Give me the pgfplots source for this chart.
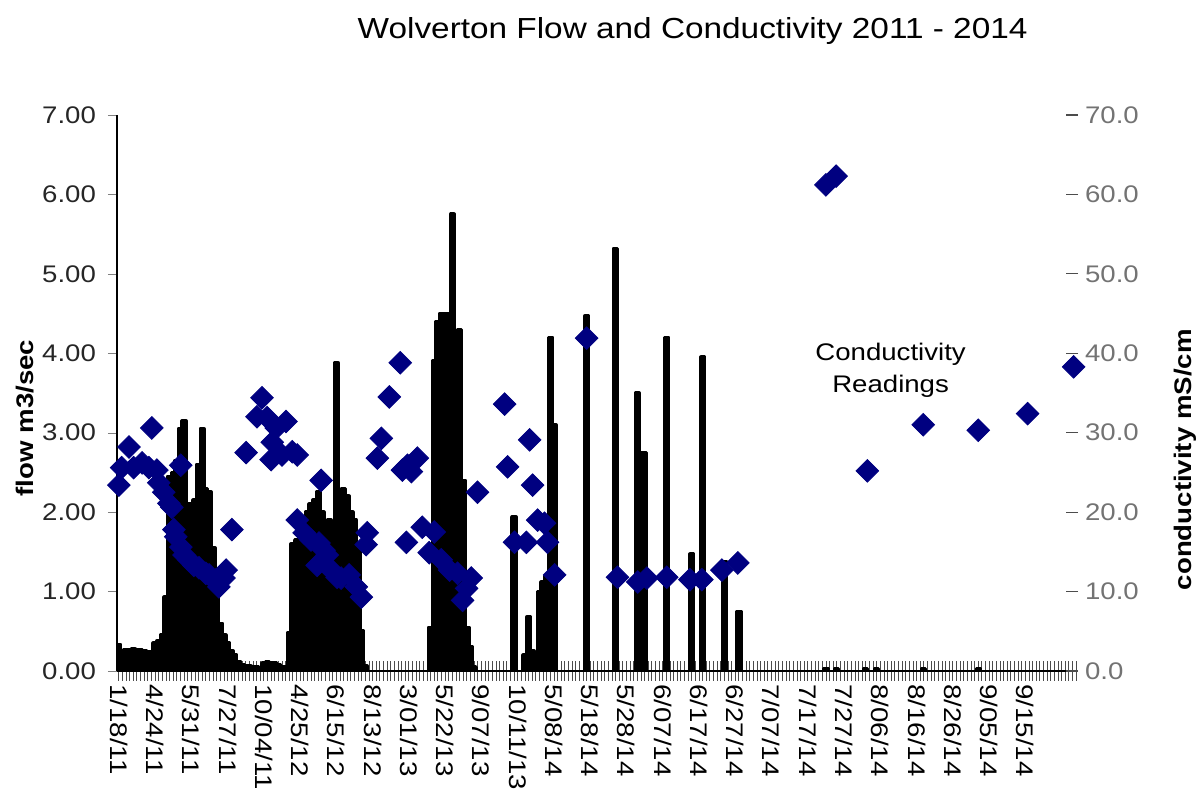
\documentclass[border=0pt]{standalone}
\usepackage{fontspec}
\setmainfont{Liberation Sans}[FakeStretch=1.15]
\usepackage{pgfplots}
\usepackage{pgfplotstable}
\pgfplotsset{compat=1.18}
\definecolor{navy}{RGB}{0,0,128}

\pgfplotstableread{
i flow
0 0.33
1 0.02
2 0.27
3 0.27
4 0.28
5 0.27
6 0.27
7 0.26
8 0.24
9 0.24
10 0.35
11 0.38
12 0.45
13 0.93
14 2.45
15 2.5
16 2.65
17 3.05
18 3.15
19 2.1
20 2.1
21 2.15
22 2.6
23 3.05
24 2.3
25 2.25
26 1.55
27 1.0
28 0.6
29 0.45
30 0.35
31 0.25
32 0.2
33 0.12
34 0.08
35 0.07
36 0.06
37 0.05
38 0.05
39 0.04
40 0.1
41 0.12
42 0.1
43 0.1
44 0.08
45 0.05
46 0.05
47 0.48
48 1.6
49 1.65
50 1.75
51 1.9
52 2.0
53 2.1
54 2.15
55 2.25
56 2.0
57 1.6
58 1.9
59 1.65
60 3.88
61 1.6
62 2.3
63 2.2
64 2.0
65 1.9
66 1.6
67 0.5
68 0.06
86 0.55
87 3.9
88 4.4
89 4.5
90 4.5
91 4.5
92 5.75
93 2.45
94 4.3
95 2.4
96 0.55
97 0.3
98 0.05
109 1.94
112 0.2
113 0.68
114 0.25
115 0.22
116 1.0
117 1.12
118 1.2
119 4.2
120 3.1
129 4.47
137 5.32
143 3.5
144 2.75
145 2.75
151 4.2
158 1.47
161 3.95
167 1.38
171 0.75
195 0.03
198 0.03
206 0.03
209 0.03
222 0.03
237 0.03
}\flowdata

\pgfplotstableread{
i cond
0.0 23.4
0.8 25.6
2.8 28.2
4.1 25.6
6.4 26.2
8.3 25.6
9.1 30.6
10.5 25.3
11.0 23.7
12.4 22.5
13.8 21.1
14.6 20.6
15.2 17.8
15.7 16.9
17.1 25.9
17.1 15.6
18.0 14.6
19.3 14.0
20.7 13.3
22.1 13.0
24.0 12.3
24.9 12.1
26.8 11.5
27.6 10.6
29.0 11.7
29.6 12.7
31.2 17.8
35.1 27.5
38.1 32.0
39.5 34.4
40.9 31.9
42.0 26.6
42.3 28.8
43.4 30.6
45.0 27.2
46.1 31.4
47.8 27.6
49.2 27.2
49.2 19.0
51.1 17.4
53.0 16.5
54.7 13.3
55.2 16.1
55.8 24.0
56.6 15.2
57.5 14.6
58.6 12.7
60.2 11.8
61.3 11.7
63.5 12.1
65.5 10.6
66.9 9.3
68.2 15.9
68.5 17.4
71.3 26.8
72.4 29.3
74.6 34.5
77.6 38.8
78.2 25.3
79.3 16.2
79.6 25.9
80.7 25.1
82.3 26.8
83.7 18.1
85.6 14.9
87.0 17.5
88.9 14.0
91.2 12.7
93.4 12.3
94.8 8.9
95.9 10.4
97.2 11.7
98.9 22.5
106.4 33.6
107.2 25.7
109.1 16.2
112.4 16.2
113.3 29.1
114.1 23.4
115.5 19.0
117.4 18.6
118.2 16.2
120.2 12.1
129.0 41.9
137.5 11.8
143.1 11.2
145.6 11.7
151.1 11.8
157.5 11.5
160.8 11.5
166.3 12.7
170.7 13.6
195.0 61.2
197.8 62.3
206.4 25.2
221.8 31.0
237.0 30.3
250.6 32.4
263.3 38.3
}\conddata

\begin{document}
\begin{tikzpicture}
\begin{axis}[
  scale only axis, width=480.5pt, height=278pt,
  at={(0,0)}, anchor=south west,
  xmin=-0.5, xmax=264.5, ymin=0, ymax=7,
  axis x line*=bottom, axis y line*=left,
  axis line style={black, line width=0.8pt},
  ytick={0,1,...,7},
  /pgf/number format/fixed, /pgf/number format/fixed zerofill,
  /pgf/number format/precision=2, /pgf/number format/assume math mode=true,
  y tick label style={font=\fontsize{12}{14}\selectfont, text=black!85, xshift=-2.5pt},
  ytick align=outside, major tick length=4.5pt,
  xtick={0,10,...,260},
  xticklabels={1/18/11,4/24/11,5/31/11,7/27/11,10/04/11,4/25/12,6/15/12,8/13/12,3/01/13,5/22/13,9/07/13,10/11/13,5/08/14,5/18/14,5/28/14,6/07/14,6/17/14,6/27/14,7/07/14,7/17/14,7/27/14,8/06/14,8/16/14,8/26/14,9/05/14,9/15/14,{}},
  x tick label style={rotate=-90, anchor=west, font=\fontsize{12}{14}\selectfont, text=black, xshift=1pt},
  minor xtick={0,1,...,264},
  xtick align=center, minor tick length=10pt,
  minor x tick style={black!70, line width=0.45pt},
  major x tick style={black!70, line width=0.45pt},
  ylabel={\textbf{flow m3/sec}},
  ylabel style={at={(axis description cs:-0.0957,0.455)}, anchor=center, font=\fontsize{12}{14}\selectfont},
  title={Wolverton Flow and Conductivity 2011 - 2014},
  title style={at={(0.599,1.129)}, anchor=center, font=\fontsize{14.5}{17}\selectfont},
]
\addplot[ybar, bar width=1, fill=black, draw=black, line width=1.8pt, line join=round] table[x=i, y=flow] {\flowdata};
\end{axis}
\begin{axis}[
  scale only axis, width=480.5pt, height=278pt,
  at={(0,0)}, anchor=south west,
  xmin=-0.5, xmax=264.5, ymin=0, ymax=70,
  axis x line=none, axis y line*=right,
  y axis line style={draw=none},
  ytick={0,10,...,70},
  /pgf/number format/fixed, /pgf/number format/fixed zerofill,
  /pgf/number format/precision=1, /pgf/number format/assume math mode=true,
  y tick label style={font=\fontsize{12}{14}\selectfont, text=black!55},
  ytick align=inside, major tick length=6pt,
  ytick style={black!70, line width=0.6pt},
  ylabel={\textbf{conductivity mS/cm}},
  ylabel style={at={(axis description cs:1.112,0.38)}, anchor=center, rotate=0, font=\fontsize{12}{14}\selectfont},
]
\addplot[only marks, mark=square*, mark size=4pt, mark options={rotate=45, fill=navy, draw=navy}] table[x=i, y=cond] {\conddata};
\node[align=center, font=\fontsize{12}{16}\selectfont] at (axis description cs:0.805,0.54) {Conductivity\\Readings};
\end{axis}
\pgfresetboundingbox
\path (-58.5pt,-60pt) rectangle (542pt,335.5pt);
\end{tikzpicture}
\end{document}
